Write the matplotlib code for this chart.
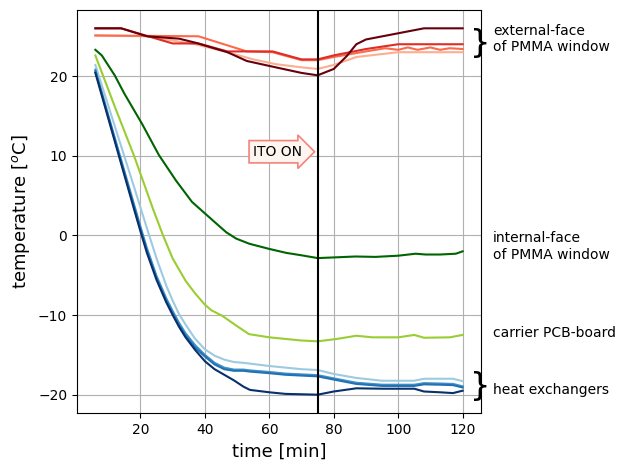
import matplotlib
matplotlib.use("Agg")
import matplotlib.pyplot as plt

# ---- data ----
t_blue = [6, 10, 14, 18, 20, 22, 25, 28, 30, 32, 34, 37, 40, 43, 46, 49, 52, 54, 60, 65, 70, 75, 80, 87, 95, 105, 108, 113, 117, 120]
hx_light = [21.4, 16.3, 11.2, 6.1, 3.5, 0.9, -2.9, -6.3, -8.2, -9.9, -11.2, -13.0, -14.3, -15.1, -15.6, -15.9, -16.0, -16.1, -16.4, -16.6, -16.8, -16.9, -17.4, -17.9, -18.25, -18.25, -18.0, -18.0, -18.0, -18.3]
hx_mid1 = [20.8, 15.1, 9.5, 3.9, 1.1, -1.6, -5.1, -7.9, -9.5, -11.0, -12.3, -13.8, -15.0, -16.0, -16.6, -16.85, -16.85, -16.95, -17.15, -17.35, -17.45, -17.55, -17.95, -18.5, -18.75, -18.75, -18.55, -18.6, -18.65, -18.95]
hx_mid2 = [20.6, 14.9, 9.2, 3.6, 0.8, -1.9, -5.4, -8.2, -9.8, -11.3, -12.6, -14.1, -15.2, -16.2, -16.8, -17.0, -17.0, -17.1, -17.3, -17.5, -17.6, -17.7, -18.1, -18.65, -18.9, -18.9, -18.7, -18.75, -18.8, -19.1]
hx_navy = [20.4, 14.7, 9.0, 3.3, 0.5, -2.2, -5.6, -8.4, -10.0, -11.5, -12.8, -14.4, -15.8, -16.8, -17.5, -18.2, -19.0, -19.4, -19.7, -19.9, -19.95, -20.0, -19.6, -19.2, -19.25, -19.25, -19.6, -19.7, -19.8, -19.5]

t_pcb = [6, 9, 12, 15, 18, 21, 24, 27, 30, 34, 37, 40, 42, 45.4, 50, 53.7, 60, 65, 70, 75, 81, 87, 92, 100, 105, 108, 116, 120]
pcb = [22.6, 19.4, 16.2, 13.1, 10.0, 6.6, 3.2, 0.0, -2.9, -5.7, -7.3, -8.7, -9.4, -10.1, -11.4, -12.4, -12.8, -13.0, -13.2, -13.3, -13.0, -12.6, -12.8, -12.8, -12.5, -12.85, -12.8, -12.5]

t_int = [6, 8, 12, 15, 20.5, 25.7, 31, 36, 42.4, 46.6, 49.7, 53.8, 60, 65.3, 70, 75, 81, 86.7, 92.9, 100, 105.4, 108.5, 113, 117.9, 120]
internal = [23.3, 22.6, 20.1, 17.8, 14.0, 10.1, 6.9, 4.2, 1.9, 0.4, -0.4, -1.05, -1.7, -2.2, -2.5, -2.85, -2.75, -2.65, -2.7, -2.55, -2.3, -2.4, -2.4, -2.3, -2.0]

t_ext1 = [6, 14, 22, 32, 37, 47, 53, 62, 70, 75, 80, 84, 87, 90, 108, 120]
ext1 = [26.0, 26.0, 25.0, 24.7, 24.2, 23.0, 21.9, 21.1, 20.4, 20.1, 20.9, 22.5, 24.0, 24.6, 26.0, 26.0]
t_ext2 = [6, 14, 30, 38, 47, 61, 70, 75, 80, 90, 100, 120]
ext2 = [26.0, 26.0, 24.1, 24.1, 23.1, 23.1, 22.1, 22.1, 22.6, 23.4, 24.0, 24.0]
t_ext3 = [6, 38, 53, 61, 70, 75, 80, 90, 96, 100, 103, 106, 110, 113, 116, 120]
ext3 = [25.1, 25.0, 23.1, 23.0, 22.0, 22.0, 22.4, 23.1, 23.5, 23.3, 23.6, 23.3, 23.6, 23.3, 23.5, 23.4]
t_ext4 = [6, 22, 37, 47, 55, 62, 70, 75, 80, 87, 100, 120]
ext4 = [25.1, 25.0, 24.0, 23.0, 22.1, 21.5, 21.1, 20.9, 21.4, 22.4, 23.0, 23.0]

ito_on_time = 75

fig = plt.figure(figsize=(6.27, 4.70), dpi=100)
ax = fig.add_axes([77/627, 57/470, (481-77)/627, (413-10)/470])

lw = 1.5
ax.plot(t_blue, hx_light, color='#9ecae1', lw=lw)
ax.plot(t_blue, hx_mid1, color='#4292c6', lw=lw)
ax.plot(t_blue, hx_mid2, color='#2171b5', lw=lw)
ax.plot(t_blue, hx_navy, color='#08306b', lw=lw)
ax.plot(t_pcb, pcb, color='yellowgreen', lw=lw)
ax.plot(t_int, internal, color='darkgreen', lw=lw)
ax.plot(t_ext4, ext4, color='#fcae91', lw=lw)
ax.plot(t_ext3, ext3, color='#fb6a4a', lw=lw)
ax.plot(t_ext2, ext2, color='#de2d26', lw=lw)
ax.plot(t_ext1, ext1, color='#67000d', lw=lw)

ax.axvline(ito_on_time, color='black', lw=1.5)

ax.text(55, 10, 'ITO ON', fontsize=10,
        bbox=dict(boxstyle='rarrow', fc='#fff5f0', ec='#f4837a', lw=1.2))

ax.set_xlim(0.3, 125.7)
ax.set_ylim(-22.3, 28.3)
ax.grid(True)
ax.set_axisbelow(True)
ax.set_xlabel('time [min]', fontsize=13)
ax.set_ylabel('temperature [$^o$C]', fontsize=13)

ax.text(125.6, 24.1, '}', fontsize=23, ha='center', va='center', clip_on=False)
ax.text(129.4, 24.7, 'external-face\nof PMMA window', fontsize=10, va='center', clip_on=False)
ax.text(129.4, -1.4, 'internal-face\nof PMMA window', fontsize=10, va='center', clip_on=False)
ax.text(129.4, -12.3, 'carrier PCB-board', fontsize=10, va='center', clip_on=False)
ax.text(125.6, -19.0, '}', fontsize=23, ha='center', va='center', clip_on=False)
ax.text(129.4, -19.4, 'heat exchangers', fontsize=10, va='center', clip_on=False)

fig.savefig('out.png', dpi=100)
